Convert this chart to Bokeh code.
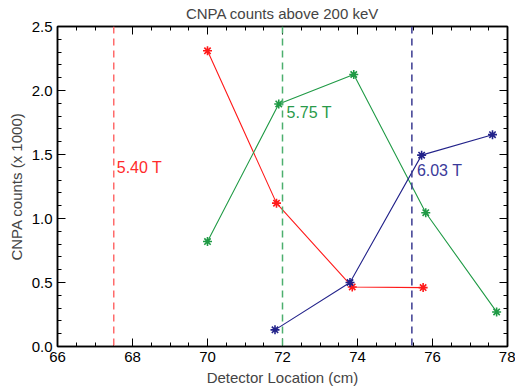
from bokeh.plotting import figure
from bokeh.models import LinearAxis, FixedTicker, Span, Label, Range1d
from bokeh.embed import file_html
from bokeh.resources import INLINE

# Data
red_x = [70.0, 71.84, 73.86, 75.75]
red_y = [2.31, 1.12, 0.465, 0.46]
green_x = [70.0, 71.9, 73.9, 75.82, 77.71]
green_y = [0.82, 1.895, 2.125, 1.045, 0.27]
blue_x = [71.8, 73.8, 75.71, 77.6]
blue_y = [0.13, 0.50, 1.495, 1.655]
field_x = [67.5, 72.0, 75.45]
field_labels = ["5.40 T", "5.75 T", "6.03 T"]
label_y = [1.40, 1.83, 1.375]
x_ticks = [66, 68, 70, 72, 74, 76, 78]
y_ticks = [0.0, 0.5, 1.0, 1.5, 2.0, 2.5]
title_text = "CNPA counts above 200 keV"

RED = "#ff1a1a"
GREEN = "#1f9a45"
BLUE = "#22228a"
dash_colors = ["#ff6b6b", "#4caf6e", "#3a3a90"]
label_colors = ["#ff2a2a", "#2a9a4a", "#3a3a9a"]
label_offsets = [3, 4, 5]
FONT = "Liberation Sans"

p = figure(frame_width=450, frame_height=320, output_backend="svg", toolbar_location=None,
           x_range=Range1d(66, 78), y_range=Range1d(0, 2.5),
           min_border_left=57, min_border_right=8, min_border_top=26, min_border_bottom=46,
           x_axis_location=None, y_axis_location=None, title=title_text)
p.grid.visible = False
p.outline_line_color = "black"
p.outline_line_width = 1.5
p.background_fill_color = "white"
p.border_fill_color = "white"

p.title.align = "center"
p.title.vertical_align = "middle"
p.title.text_font = FONT
p.title.text_font_style = "normal"
p.title.text_font_size = "15px"
p.title.standoff = 7

def make_axis(loc, ticks, minor, show_labels, label=None):
    ax = LinearAxis(ticker=FixedTicker(ticks=ticks, minor_ticks=minor))
    ax.major_tick_in = 8
    ax.major_tick_out = 0
    ax.minor_tick_in = 4
    ax.minor_tick_out = 0
    ax.axis_line_color = "black"
    ax.axis_line_width = 1.5
    ax.major_tick_line_color = "black"
    ax.minor_tick_line_color = "black"
    ax.major_label_text_font = FONT
    ax.major_label_text_font_size = "15px"
    ax.major_label_text_color = "black"
    ax.major_label_standoff = 5
    if not show_labels:
        ax.major_label_text_font_size = "1px"
        ax.major_label_text_alpha = 0
        ax.major_label_standoff = 0
        ax.major_label_overrides = {t: "" for t in ticks}
    if label:
        ax.axis_label = label
        ax.axis_label_text_font = FONT
        ax.axis_label_text_font_style = "normal"
        ax.axis_label_text_font_size = "15px"
        ax.axis_label_standoff = 4
    p.add_layout(ax, loc)
    return ax

x_minor = [66 + 0.5 * i for i in range(25)]
y_minor = [round(0.1 * i, 2) for i in range(26)]
bx = make_axis("below", x_ticks, x_minor, True, "Detector Location (cm)")
bx.major_label_overrides = {t: str(t) for t in x_ticks}
ly = make_axis("left", y_ticks, y_minor, True, "CNPA counts (x 1000)")
ly.major_label_overrides = {t: f"{t:.1f}" for t in y_ticks}
tx = make_axis("above", x_ticks, x_minor, False)
ry = make_axis("right", y_ticks, y_minor, False)

for xv, c in zip(field_x, dash_colors):
    p.add_layout(Span(location=xv, dimension="height", line_color=c,
                      line_dash="7 5", line_width=1.5))

for xs, ys, c in [(red_x, red_y, RED), (green_x, green_y, GREEN), (blue_x, blue_y, BLUE)]:
    p.line(xs, ys, line_color=c, line_width=1.1)
    p.scatter(xs, ys, marker="asterisk", size=9, line_color=c, line_width=1.6)

for xv, yv, t, c, o in zip(field_x, label_y, field_labels, label_colors, label_offsets):
    p.add_layout(Label(x=xv, y=yv, text=t, text_color=c, text_font=FONT,
                       text_font_size="16px", x_offset=o, text_baseline="middle"))

open("out.html", "w").write(file_html(p, INLINE))
